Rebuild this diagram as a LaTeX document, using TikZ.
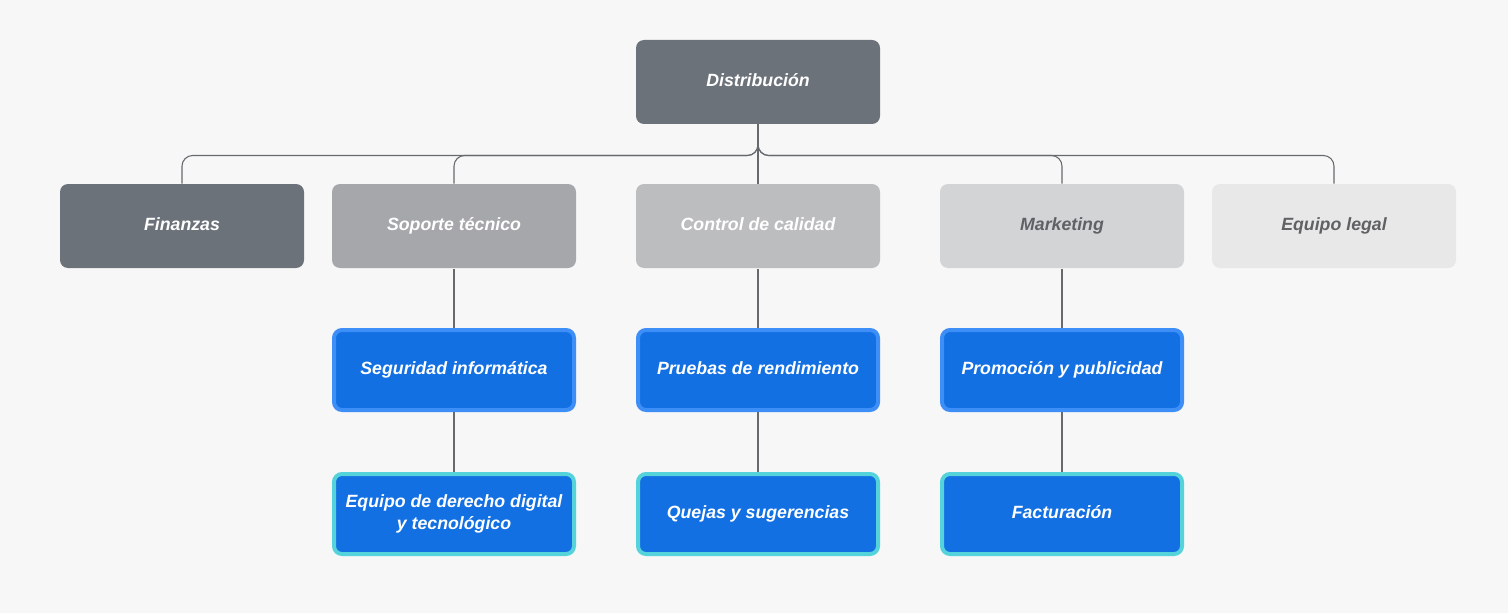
\documentclass[tikz,border=0pt]{standalone}
\usepackage{fontspec}
\setmainfont{Liberation Sans}

\definecolor{bgcol}{HTML}{F7F7F7}
\definecolor{darkcol}{HTML}{6C727A}
\definecolor{midcol}{HTML}{A6A7AA}
\definecolor{lightcol}{HTML}{BCBDBF}
\definecolor{palecol}{HTML}{D3D4D6}
\definecolor{paleestcol}{HTML}{E8E8E8}
\definecolor{greytext}{HTML}{5F6165}
\definecolor{bluefill}{HTML}{1270E3}
\definecolor{blueedge}{HTML}{3E8EF7}
\definecolor{cyanedge}{HTML}{55D3DB}
\definecolor{linkcol}{HTML}{66696E}

\tikzset{every picture/.style={line width=0.75pt}}
\tikzset{
  unit/.style={rounded corners=6pt, minimum width=183pt, minimum height=63pt, inner sep=0pt,
    align=center, font=\fontsize{13.3}{16.5}\selectfont\bfseries\itshape, text=white,
    text height=9.8pt, text depth=3pt},
  task/.style={unit, fill=bluefill, draw=blueedge, line width=3pt, minimum width=180pt, minimum height=60pt},
  subtask/.style={task, draw=cyanedge},
  link/.style={draw=linkcol, line width=0.8pt},
}

\begin{document}
\begin{tikzpicture}[x=0.75pt,y=0.75pt,yscale=-1,xscale=1]
%set diagram frame: 1508 x 613
\fill[bgcol] (0,0) rectangle (1508,613);
\useasboundingbox (0,0) rectangle (1508,613);

%Top unit
\node[unit, fill=darkcol] (dist) at (758,82) {Distribución};

%First row
\node[unit, fill=darkcol] (fin) at (182,226) {Finanzas};
\node[unit, fill=midcol] (sop) at (454,226) {Soporte técnico};
\node[unit, fill=lightcol] (cal) at (758,226) {Control de calidad};
\node[unit, fill=palecol, text=greytext] (mkt) at (1062,226) {Marketing};
\node[unit, fill=paleestcol, text=greytext] (leg) at (1334,226) {Equipo legal};

%Second row
\node[task] (seg) at (454,370) {Seguridad informática};
\node[task] (pru) at (758,370) {Pruebas de rendimiento};
\node[task] (pro) at (1062,370) {Promoción y publicidad};

%Third row
\node[subtask, text height=26.3pt] (der) at (454,514) {Equipo de derecho digital\\y tecnológico};
\node[subtask] (que) at (758,514) {Quejas y sugerencias};
\node[subtask] (fac) at (1062,514) {Facturación};

%Links from the top unit
\draw[link] (dist.south) -- (cal.north);
\foreach \n in {fin,sop,mkt,leg}
  \draw[link, rounded corners=8pt] (dist.south) -- ++(0,31) -| (\n.north);

%Links down the columns
\draw[link] (sop.south) -- (seg.north);
\draw[link] (seg.south) -- (der.north);
\draw[link] (cal.south) -- (pru.north);
\draw[link] (pru.south) -- (que.north);
\draw[link] (mkt.south) -- (pro.north);
\draw[link] (pro.south) -- (fac.north);

\end{tikzpicture}
\end{document}
